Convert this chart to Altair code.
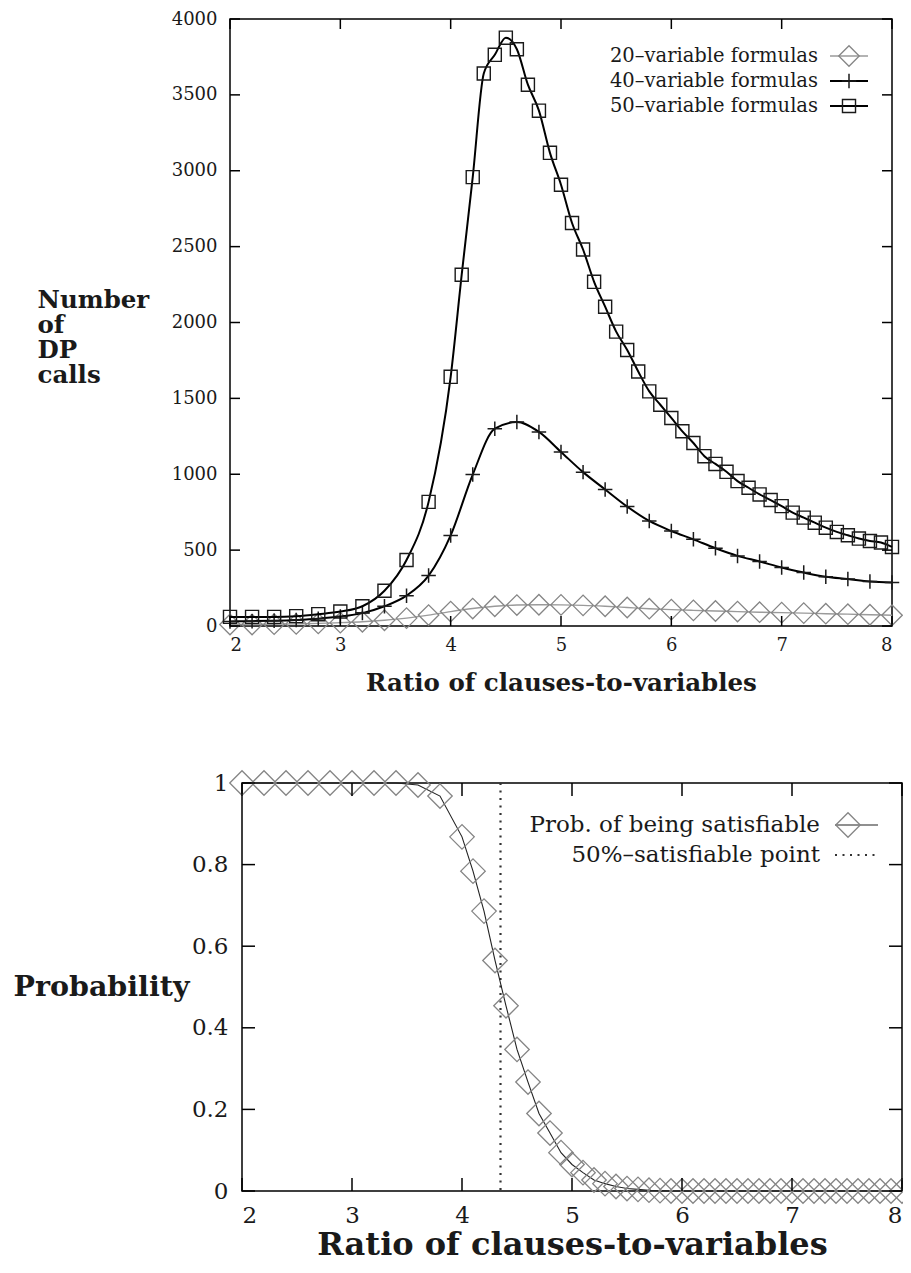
import altair as alt
import pandas as pd

FONT = "DejaVu Serif"

# ---------------- data ----------------
x_fine = [2.0, 2.2, 2.4, 2.6, 2.8, 3.0, 3.2, 3.4, 3.6, 3.8,
          4.0, 4.1, 4.2, 4.3, 4.4, 4.5, 4.6, 4.7, 4.8, 4.9,
          5.0, 5.1, 5.2, 5.3, 5.4, 5.5, 5.6, 5.7, 5.8, 5.9,
          6.0, 6.1, 6.2, 6.3, 6.4, 6.5, 6.6, 6.7, 6.8, 6.9,
          7.0, 7.1, 7.2, 7.3, 7.4, 7.5, 7.6, 7.7, 7.8, 7.9, 8.0]
x_coarse = [2.0, 2.2, 2.4, 2.6, 2.8, 3.0, 3.2, 3.4, 3.6, 3.8,
            4.0, 4.2, 4.4, 4.6, 4.8, 5.0, 5.2, 5.4, 5.6, 5.8,
            6.0, 6.2, 6.4, 6.6, 6.8, 7.0, 7.2, 7.4, 7.6, 7.8, 8.0]

calls_20 = [10, 10, 12, 14, 17, 22, 28, 38, 52, 72,
            95, 115, 130, 138, 140, 139, 136, 130, 122, 114,
            108, 103, 99, 95, 91, 88, 85, 81, 78, 74, 71]
calls_40 = [30, 32, 35, 40, 48, 62, 85, 130, 200, 332,
            597, 998, 1300, 1344, 1279, 1147, 1014, 900, 787, 692,
            626, 571, 512, 462, 425, 385, 352, 324, 309, 293, 287]
calls_50 = [60, 60, 60, 65, 78, 95, 130, 232, 435, 818,
            1642, 2315, 2958, 3641, 3764, 3877, 3801, 3567, 3396, 3118,
            2908, 2656, 2481, 2268, 2104, 1940, 1819, 1677, 1546, 1458,
            1371, 1283, 1206, 1119, 1068, 1016, 955, 911, 867, 830,
            790, 747, 714, 681, 648, 620, 598, 576, 560, 550, 521]
prob_sat = [1.0, 1.0, 1.0, 1.0, 1.0, 1.0, 1.0, 1.0, 0.995, 0.968,
            0.868, 0.784, 0.686, 0.565, 0.454, 0.347, 0.267, 0.19, 0.142, 0.094,
            0.065, 0.045, 0.027, 0.018, 0.011, 0.006, 0.004, 0.002, 0.001, 0.0,
            0.0, 0.0, 0.0, 0.0, 0.0, 0.0, 0.0, 0.0, 0.0, 0.0,
            0.0, 0.0, 0.0, 0.0, 0.0, 0.0, 0.0, 0.0, 0.0, 0.0, 0.0]
half_point = [4.35]

x_ticks = [2, 3, 4, 5, 6, 7, 8]
calls_ticks = [0, 500, 1000, 1500, 2000, 2500, 3000, 3500, 4000]
prob_ticks = [0, 0.2, 0.4, 0.6, 0.8, 1]

series_names = ["20–variable formulas", "40–variable formulas", "50–variable formulas"]
prob_names = ["Prob. of being satisfiable", "50%–satisfiable point"]
x_title = "Ratio of clauses-to-variables"
calls_title = ["Number", "of", "DP", "calls"]
prob_title = "Probability"

# ---------------- styles ----------------
GRAY = "#858585"
INK = "#1a1a1a"
PLUS = "M-1,0H1M0,-1V1"
FRAME = alt.ViewBackground(stroke="black", strokeWidth=1.5)

# ================= top chart =================
W1, H1 = 662, 607
xs1 = alt.Scale(domain=[2, 8], nice=False, zero=False)
ys1 = alt.Scale(domain=[0, 4000], nice=False)

df20 = pd.DataFrame({"x": x_coarse, "calls": calls_20})
df40 = pd.DataFrame({"x": x_coarse, "calls": calls_40})
df50 = pd.DataFrame({"x": x_fine, "calls": calls_50})

x_axis1 = alt.Axis(values=x_ticks, format="d", tickSize=0, domain=False, grid=False,
                   labelFont=FONT, labelFontSize=18, labelPadding=10, labelColor=INK,
                   title=x_title, titleFont=FONT, titleFontSize=24.5, titleFontWeight="bold",
                   titlePadding=17, titleColor=INK)
y_axis1 = alt.Axis(values=calls_ticks, format="d", tickSize=0, domain=False, grid=False,
                   labelFont=FONT, labelFontSize=18, labelPadding=13, labelColor=INK,
                   title=calls_title, titleFont=FONT, titleFontSize=24.5, titleFontWeight="bold",
                   titleColor=INK, titleAngle=0, titleAlign="left", titleBaseline="top",
                   titleX=-193, titleY=269, titleLineHeight=25)


def X1(f="x:Q"):
    return alt.X(f, scale=xs1, axis=x_axis1)


def Y1(f="calls:Q"):
    return alt.Y(f, scale=ys1, axis=y_axis1)


line20 = alt.Chart(df20).mark_line(color="#9a9a9a", strokeWidth=1.4, interpolate="monotone").encode(
    x=X1(), y=Y1())
pts20 = alt.Chart(df20).mark_point(shape="diamond", size=420, color=GRAY, strokeWidth=1.3,
                                   filled=False, opacity=1).encode(x=X1(), y=Y1())
line40 = alt.Chart(df40).mark_line(color="black", strokeWidth=2, interpolate="monotone").encode(
    x=X1(), y=Y1())
pts40 = alt.Chart(df40).mark_point(shape=PLUS, size=210, color=INK, strokeWidth=1.5,
                                   filled=False, opacity=1).encode(x=X1(), y=Y1())
line50 = alt.Chart(df50).mark_line(color="black", strokeWidth=2, interpolate="monotone").encode(
    x=X1(), y=Y1())
pts50 = alt.Chart(df50).mark_point(shape="square", size=170, color=INK, strokeWidth=1.4,
                                   filled=False, opacity=1).encode(x=X1(), y=Y1())


def tick_layers(xt, yt, XF, YF, W, H, L):
    dfx = pd.DataFrame({"x": xt})
    dfy = pd.DataFrame({"v": yt})
    t = alt.Chart(dfx).mark_rule(color="black", strokeWidth=1.5)
    u = alt.Chart(dfy).mark_rule(color="black", strokeWidth=1.5)
    return [
        t.encode(x=XF("x:Q"), y=alt.value(0), y2=alt.value(L)),
        t.encode(x=XF("x:Q"), y=alt.value(H), y2=alt.value(H - L)),
        u.encode(y=YF("v:Q"), x=alt.value(0), x2=alt.value(L)),
        u.encode(y=YF("v:Q"), x=alt.value(W), x2=alt.value(W - L)),
    ]


# legend (top)
leg_top = []
leg_styles = [
    dict(shape="diamond", size=420, color=GRAY, line="#9a9a9a", lw=1.4, sw=1.3),
    dict(shape=PLUS, size=210, color=INK, line="black", lw=2, sw=1.5),
    dict(shape="square", size=170, color=INK, line="black", lw=2, sw=1.4),
]
for i, (name, st) in enumerate(zip(series_names, leg_styles)):
    yy = 37 + 25 * i
    d = pd.DataFrame({"label": [name]})
    leg_top.append(alt.Chart(d).mark_text(align="right", baseline="middle", font=FONT,
                                          fontSize=19.5, color=INK).encode(
        x=alt.value(588), y=alt.value(yy), text="label:N"))
    leg_top.append(alt.Chart(d).mark_rule(color=st["line"], strokeWidth=st["lw"]).encode(
        x=alt.value(600), x2=alt.value(638), y=alt.value(yy)))
    leg_top.append(alt.Chart(d).mark_point(shape=st["shape"], size=st["size"], color=st["color"],
                                           strokeWidth=st["sw"], filled=False, opacity=1).encode(
        x=alt.value(619), y=alt.value(yy)))

top = alt.layer(line20, pts20, line40, pts40, line50, pts50,
                *tick_layers(x_ticks, calls_ticks, X1, Y1, W1, H1, 10),
                *leg_top).properties(width=W1, height=H1, view=FRAME)

# ================= bottom chart =================
W2, H2 = 660, 408
xs2 = alt.Scale(domain=[2, 8], nice=False, zero=False)
ys2 = alt.Scale(domain=[0, 1], nice=False)
dfp = pd.DataFrame({"x": x_fine, "p": prob_sat})
dfh = pd.DataFrame({"x": half_point})

x_axis2 = alt.Axis(values=x_ticks, format="d", tickSize=0, domain=False, grid=False,
                   labelFont=FONT, labelFontSize=23, labelPadding=13, labelColor=INK,
                   title=x_title, titleFont=FONT, titleFontSize=32, titleFontWeight="bold",
                   titlePadding=2, titleColor=INK)
y_axis2 = alt.Axis(values=prob_ticks, format="~g", tickSize=0, domain=False, grid=False,
                   labelFont=FONT, labelFontSize=23, labelPadding=14, labelColor=INK,
                   title=prob_title, titleFont=FONT, titleFontSize=28.5, titleFontWeight="bold",
                   titleColor=INK, titleAngle=0, titleAlign="left", titleBaseline="alphabetic",
                   titleX=-229, titleY=212)


def X2(f="x:Q"):
    return alt.X(f, scale=xs2, axis=x_axis2)


def Y2(f="p:Q"):
    return alt.Y(f, scale=ys2, axis=y_axis2)


lineP = alt.Chart(dfp).mark_line(color="#222", strokeWidth=1.1).encode(x=X2(), y=Y2())
ptsP = alt.Chart(dfp).mark_point(shape="diamond", size=600, color=GRAY, strokeWidth=1.3,
                                 filled=False, opacity=1).encode(x=X2(), y=Y2())
halfR = alt.Chart(dfh).mark_rule(color="#333", strokeWidth=2.2, strokeDash=[2, 5.5]).encode(
    x=X2())

leg_bot = []
for i, name in enumerate(prob_names):
    yy = 42 + 30 * i
    d = pd.DataFrame({"label": [name]})
    leg_bot.append(alt.Chart(d).mark_text(align="right", baseline="middle", font=FONT,
                                          fontSize=23, color=INK).encode(
        x=alt.value(578), y=alt.value(yy), text="label:N"))
    if i == 0:
        leg_bot.append(alt.Chart(d).mark_rule(color="#222", strokeWidth=1.1).encode(
            x=alt.value(593), x2=alt.value(636), y=alt.value(yy)))
        leg_bot.append(alt.Chart(d).mark_point(shape="diamond", size=600, color=GRAY,
                                               strokeWidth=1.3, filled=False, opacity=1).encode(
            x=alt.value(606), y=alt.value(yy)))
    else:
        leg_bot.append(alt.Chart(d).mark_rule(color="#333", strokeWidth=2.2,
                                              strokeDash=[2, 5.5]).encode(
            x=alt.value(593), x2=alt.value(638), y=alt.value(yy)))

bottom = alt.layer(halfR, lineP, ptsP,
                   *tick_layers(x_ticks, prob_ticks, X2, Y2, W2, H2, 13),
                   *leg_bot).properties(width=W2, height=H2, view=FRAME)

spacer = alt.Chart(pd.DataFrame({"a": [0]})).mark_point(opacity=0).encode(
    x=alt.value(0), y=alt.value(0)).properties(width=12, height=H2,
                                               view=alt.ViewBackground(stroke=None))

chart = alt.vconcat(
    top,
    alt.hconcat(spacer, bottom, spacing=0, bounds="flush"),
    spacing=157, bounds="flush",
).properties(
    autosize=alt.AutoSizeParams(type="none"),
    padding={"left": 222, "top": 11, "right": 673, "bottom": 1245},
).configure_view(stroke=None)

chart.save("out.html", embed_options={"renderer": "svg", "actions": False})
